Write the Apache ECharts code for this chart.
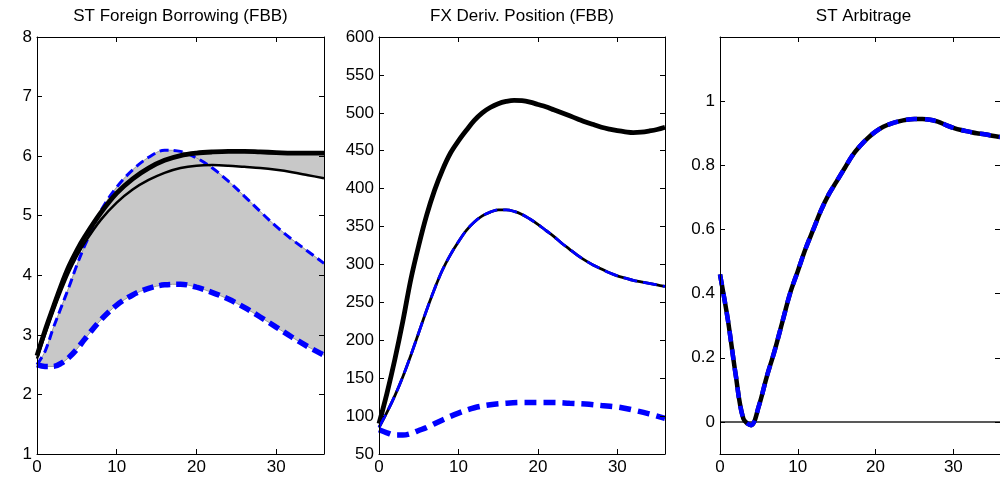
<!DOCTYPE html>
<html>
<head>
<meta charset="utf-8">
<script src="https://cdn.jsdelivr.net/npm/echarts@6/dist/echarts.min.js"></script>
<style>
html,body{margin:0;padding:0;background:#fff;}
#chart{width:1000px;height:485px;}
</style>
</head>
<body>
<div id="chart"></div>
<script>
// ---------- Data ----------
const titles = ['ST Foreign Borrowing (FBB)', 'FX Deriv. Position (FBB)', 'ST Arbitrage'];
const xTicks = [0, 10, 20, 30];
const yTicks1 = [1, 2, 3, 4, 5, 6, 7, 8];
const yTicks2 = [50, 100, 150, 200, 250, 300, 350, 400, 450, 500, 550, 600];
const yTicks3 = [0, 0.2, 0.4, 0.6, 0.8, 1];

// Panel 1: ST Foreign Borrowing
const x1 = [0, 1, 2, 3, 4, 5, 6, 8, 10, 12, 14, 16, 18, 20, 22, 24, 26, 28, 30, 32, 34, 36];
const fbbThick = [2.65, 3.07, 3.45, 3.82, 4.15, 4.42, 4.65, 5.05, 5.38, 5.62, 5.8, 5.93, 6.01, 6.05, 6.07, 6.08, 6.08, 6.07, 6.06, 6.05, 6.05, 6.05];
const fbbThin = [2.6, 3.0, 3.38, 3.73, 4.05, 4.32, 4.55, 4.93, 5.22, 5.44, 5.6, 5.72, 5.8, 5.84, 5.85, 5.84, 5.82, 5.8, 5.77, 5.73, 5.68, 5.63];
const fbbBandUpper = [2.5, 2.72, 3.1, 3.45, 3.8, 4.17, 4.5, 5.08, 5.48, 5.77, 5.98, 6.1, 6.08, 5.97, 5.8, 5.58, 5.33, 5.07, 4.82, 4.6, 4.4, 4.2];
const fbbBandLower = [2.5, 2.47, 2.47, 2.52, 2.62, 2.76, 2.93, 3.25, 3.5, 3.67, 3.78, 3.84, 3.85, 3.8, 3.71, 3.6, 3.46, 3.3, 3.13, 2.96, 2.8, 2.66];

// Panel 2: FX Deriv. Position
const x2 = [0, 1, 2, 3, 4, 5, 6, 7, 8, 9, 10, 11, 12, 13, 14, 15, 16, 17, 18, 19, 20, 21, 22, 23, 24, 25, 26, 27, 28, 29, 30, 31, 32, 33, 34, 35, 36];
const fxHigh = [90, 130, 175, 225, 280, 325, 365, 398, 425, 447, 463, 477, 490, 500, 507, 512, 515, 516.5, 516, 514, 511, 508, 504, 500, 496, 492, 488, 484.5, 481, 478.5, 476.5, 475, 474, 474.5, 476, 478, 481];
const fxMid = [85, 105, 127, 152, 180, 210, 240, 268, 293, 313, 330, 345, 356, 364, 369, 372, 372, 370, 366, 360, 353, 345, 337, 328, 320, 312, 305, 299, 294, 289, 285, 282, 279, 277, 275, 273, 271];
const x2Low = [0, 1, 2, 3, 4, 5, 6, 8, 10, 12, 14, 16, 18, 20, 22, 24, 26, 28, 30, 32, 34, 36];
const fxLow = [82, 78, 75, 75, 77, 81, 85, 95, 104, 111, 115, 117, 118, 118, 118, 117, 116, 114, 112, 108, 103, 97];

// Panel 3: ST Arbitrage
const x3 = x2;
const arb = [0.46, 0.32, 0.15, 0.01, -0.01, 0.05, 0.14, 0.22, 0.31, 0.40, 0.47, 0.54, 0.60, 0.66, 0.71, 0.75, 0.79, 0.83, 0.86, 0.885, 0.905, 0.92, 0.93, 0.937, 0.942, 0.944, 0.944, 0.942, 0.936, 0.926, 0.917, 0.91, 0.905, 0.9, 0.897, 0.892, 0.888];
const zeroLineX = [0, 36];
const zeroLineY = [0, 0];

// ---------- Helpers ----------
const FONT = 'Liberation Sans, Arial, sans-serif';
const zip = (xs, ys) => xs.map((x, i) => [x, ys[i]]);
// value-first pairs so that stacking happens on the y dimension
const zipYX = (xs, ys) => xs.map((x, i) => [ys[i], x]);
const diff = (a, b) => a.map((v, i) => +(v - b[i]).toFixed(4));

const grids = [
  { left: 37, top: 37, width: 287, height: 417 },
  { left: 379, top: 37, width: 286, height: 417 },
  { left: 720, top: 37, width: 287, height: 417 }
];
const yRanges = [[1, 8, yTicks1], [50, 600, yTicks2], [-0.1, 1.2, yTicks3]];

const xAxes = [], yAxes = [];
grids.forEach((g, gi) => {
  ['bottom', 'top'].forEach(pos => {
    xAxes.push({
      type: 'value', gridIndex: gi, position: pos, min: 0, max: 36, z: 10,
      axisLine: { show: true, onZero: false, lineStyle: { color: '#000', width: 1 } },
      axisTick: { show: true, inside: true, length: 5, customValues: xTicks, lineStyle: { color: '#000' } },
      axisLabel: { show: pos === 'bottom', customValues: xTicks, color: '#000', fontSize: 17, fontFamily: FONT, margin: 5 },
      splitLine: { show: false }
    });
  });
  const [mn, mx, tk] = yRanges[gi];
  ['left', 'right'].forEach(pos => {
    yAxes.push({
      type: 'value', gridIndex: gi, position: pos, min: mn, max: mx, z: 10,
      axisLine: { show: true, onZero: false, lineStyle: { color: '#000', width: 1 } },
      axisTick: { show: true, inside: true, length: 5, customValues: tk, lineStyle: { color: '#000' } },
      axisLabel: { show: pos === 'left', customValues: tk, color: '#000', fontSize: 17, fontFamily: FONT, margin: 5 },
      splitLine: { show: false }
    });
  });
});

function line(gi, data, color, width, dash, extra) {
  return Object.assign({
    type: 'line', xAxisIndex: gi * 2, yAxisIndex: gi * 2, data: data,
    showSymbol: false, symbol: 'none', smooth: 0.35, animation: false,
    lineStyle: { color: color, width: width, type: dash || 'solid', cap: 'butt' },
    silent: true
  }, extra || {});
}
const GRAY = '#c8c8c8';
function band(gi, xs, lower, upper, name) {
  const enc = { x: 1, y: 0 };
  return [
    line(gi, zipYX(xs, lower), GRAY, 0, null, { stack: name, encode: enc, lineStyle: { opacity: 0, width: 0 } }),
    line(gi, zipYX(xs, diff(upper, lower)), GRAY, 0, null, { stack: name, encode: enc, lineStyle: { opacity: 0, width: 0 }, areaStyle: { color: GRAY, opacity: 1 } })
  ];
}

const series = [].concat(
  // Panel 1 bands
  band(0, x1, fbbBandLower, fbbBandUpper, 'bandA'),
  band(0, x1, fbbThin, fbbThick, 'bandB'),
  [
    line(0, zip(x1, fbbBandUpper), '#9a9a9a', 1),
    line(0, zip(x1, fbbBandLower), '#9a9a9a', 1),
    line(0, zip(x1, fbbBandUpper), '#0000ff', 3, [9, 5]),
    line(0, zip(x1, fbbBandLower), '#0000ff', 5.5, [11, 6]),
    line(0, zip(x1, fbbThin), '#000000', 2.5),
    line(0, zip(x1, fbbThick), '#000000', 4.8),
    // Panel 2
    line(1, zip(x2, fxHigh), '#000000', 4.8),
    line(1, zip(x2, fxMid), '#000000', 2.8),
    line(1, zip(x2, fxMid), '#0000ff', 2.8, [14, 6]),
    line(1, zip(x2Low, fxLow), '#0000ff', 5.5, [12, 7]),
    // Panel 3
    line(2, zip(zeroLineX, zeroLineY), '#222222', 1.5, null, { smooth: false }),
    line(2, zip(x3, arb), '#000000', 4.5),
    line(2, zip(x3, arb), '#0000ff', 4.5, [11, 8])
  ]
);

const centers = grids.map(g => g.left + g.width / 2);
const option = {
  animation: false,
  backgroundColor: '#ffffff',
  title: titles.map((t, i) => ({
    text: t, left: centers[i], top: 8, textAlign: 'center', padding: 0,
    textStyle: { color: '#000', fontSize: 17, fontWeight: 'normal', fontFamily: FONT }
  })),
  grid: grids,
  xAxis: xAxes,
  yAxis: yAxes,
  series: series
};

const chart = echarts.init(document.getElementById('chart'), null, { renderer: 'canvas' });
chart.setOption(option);
</script>
</body>
</html>
